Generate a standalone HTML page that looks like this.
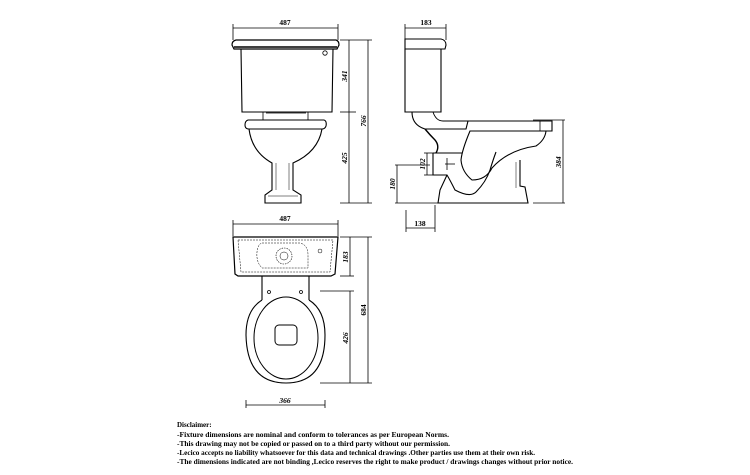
<!DOCTYPE html>
<html><head><style>html,body{margin:0;padding:0;background:#fff;width:750px;height:475px;overflow:hidden}</style></head>
<body>
<svg width="750" height="475" viewBox="0 0 750 475" xmlns="http://www.w3.org/2000/svg" font-family="Liberation Serif, serif">
<g fill="none" stroke="#000" stroke-width="0.8">
<!-- FRONT VIEW -->
<line x1="233" y1="28" x2="338" y2="28"/><line x1="233" y1="24" x2="233" y2="40"/><line x1="338" y1="24" x2="338" y2="40"/>
<path d="M236 40 H336 Q339 41 339 45 L337 49 H234 L232 45 Q232 41 236 40 Z" stroke-width="1.2"/>
<line x1="234" y1="47" x2="337" y2="47" stroke-width="1.5"/>
<path d="M241 49 L242 112 H332 L333 49" stroke-width="1.1"/>
<circle cx="325" cy="53" r="2.2"/>
<path d="M263 112 L263 120 M308 112 L308 120 M266 113 H306"/>
<path d="M248 120 H324 Q327 121 326 126 Q325 129 322 129 H249 Q245 129 245 125 Q245 121 248 120 Z" stroke-width="1.1"/>
<path d="M249 129 Q252 152 272 163 L272 190 L265 195 L265 203 H301 L301 195 L293 190 L293 163 Q318 152 322 129" stroke-width="1.1"/>
<path d="M276 163 V190 M289 163 V190 M268 196 H298" stroke-width="0.5"/>
<line x1="340" y1="40" x2="372" y2="40"/><line x1="340" y1="112" x2="356" y2="112"/><line x1="340" y1="203" x2="372" y2="203"/>
<line x1="349" y1="40" x2="349" y2="203"/><line x1="368" y1="40" x2="368" y2="203"/>
<!-- SIDE VIEW -->
<line x1="405" y1="28" x2="446" y2="28"/><line x1="405" y1="24" x2="405" y2="40"/><line x1="446" y1="24" x2="446" y2="40"/>
<path d="M405 49 V39 H441 Q446 40 446 45 L445 49 Z" stroke-width="1.1"/>
<path d="M405 49 V112 H441 V49" stroke-width="1.1"/>
<path d="M412 112 Q412 125 425 129 H466 L468 121 H552 V131 H470 Q462 150 461 160 Q462 172 472 180 Q486 180 492 168 Q508 150 536 146 Q545 140 546 131" stroke-width="1.1"/>
<path d="M433 112 Q436 121 443 121 H468" stroke-width="0.9"/>
<path d="M540 121 V131" />
<path d="M425 129 Q430 135 435 140 Q440 146 436 153" stroke-width="1.4"/>
<path d="M433 153 H462 M433 153 V175 H447 Q450 180 455 190 Q470 198 476 192 Q486 182 490 170 Q493 160 496 152 M447 175 L440 190 L438 203 H528 L525 187 L520 186 L520 160" stroke-width="1.1"/>
<path d="M516 162 V188" stroke-width="0.5"/>
<line x1="445" y1="164" x2="455" y2="164"/><line x1="447" y1="158" x2="447" y2="170"/>
<line x1="533" y1="120" x2="565" y2="120"/><line x1="533" y1="203" x2="565" y2="203"/><line x1="563" y1="120" x2="563" y2="203"/>
<line x1="395" y1="165" x2="430" y2="165"/><line x1="395" y1="203" x2="438" y2="203"/><line x1="397" y1="165" x2="397" y2="203"/>
<line x1="424" y1="153" x2="433" y2="153"/><line x1="424" y1="175" x2="433" y2="175"/><line x1="427" y1="153" x2="427" y2="175"/>
<line x1="406" y1="210" x2="406" y2="232"/><line x1="435" y1="205" x2="435" y2="232"/><line x1="406" y1="228" x2="435" y2="228"/>
<!-- PLAN VIEW -->
<line x1="233" y1="224" x2="338" y2="224"/><line x1="233" y1="220" x2="233" y2="236"/><line x1="338" y1="220" x2="338" y2="236"/>
<path d="M233 237 H338 L335 274 L331 276 H238 L235 274 Z" stroke-width="1.2"/>
<path d="M238 240 H333 L330 272 H241 Z" stroke-width="0.5" stroke-dasharray="2 1"/>
<path d="M262 243 H300 Q308 245 308 255 V268 H262 Q256 262 257 252 Q258 244 262 243 Z" stroke-width="0.5" stroke-dasharray="2 1"/>
<circle cx="284" cy="256" r="8" stroke-width="0.6" stroke-dasharray="1.5 1"/><circle cx="284" cy="256" r="4" stroke-width="0.5"/>
<circle cx="320" cy="251" r="2" stroke-width="0.5"/>
<path d="M262 276 V300 M309 276 V300" stroke-width="1.1"/>
<circle cx="269" cy="292" r="1.5"/><circle cx="301" cy="292" r="1.5"/>
<path d="M262 300 Q246 310 246 335 Q247 383 286 383 Q325 383 325 335 Q325 310 309 300" stroke-width="1.1"/>
<ellipse cx="286" cy="338" rx="32" ry="41" stroke-width="1"/>
<rect x="275" y="325" width="22" height="20" rx="4" stroke-width="1"/>
<line x1="340" y1="237" x2="372" y2="237"/><line x1="340" y1="276" x2="354" y2="276"/><line x1="320" y1="291" x2="354" y2="291"/><line x1="320" y1="383" x2="372" y2="383"/>
<line x1="350" y1="237" x2="350" y2="276"/><line x1="350" y1="291" x2="350" y2="383"/><line x1="368" y1="237" x2="368" y2="383"/>
<line x1="246" y1="400" x2="246" y2="408"/><line x1="325" y1="400" x2="325" y2="408"/><line x1="246" y1="405" x2="325" y2="405"/>
</g>
<g font-size="7.5" font-weight="bold" font-style="italic" fill="#000">
<text x="285" y="25" text-anchor="middle" font-style="normal">487</text>
<text x="426" y="25" text-anchor="middle" font-style="normal">183</text>
<text x="285" y="221" text-anchor="middle" font-style="normal">487</text>
<text x="420" y="226" text-anchor="middle" font-style="normal">138</text>
<text x="285" y="403" text-anchor="middle">366</text>
<text transform="translate(347,76) rotate(-90)" text-anchor="middle">341</text>
<text transform="translate(347,158) rotate(-90)" text-anchor="middle">425</text>
<text transform="translate(366,121) rotate(-90)" text-anchor="middle">766</text>
<text transform="translate(561,162) rotate(-90)" text-anchor="middle">384</text>
<text transform="translate(395,184) rotate(-90)" text-anchor="middle">180</text>
<text transform="translate(425,164) rotate(-90)" text-anchor="middle">102</text>
<text transform="translate(348,257) rotate(-90)" text-anchor="middle">183</text>
<text transform="translate(348,338) rotate(-90)" text-anchor="middle">426</text>
<text transform="translate(366,310) rotate(-90)" text-anchor="middle" font-style="normal">684</text>
</g>
<g font-size="7" font-weight="bold" fill="#000">
<text x="177" y="427">Disclaimer:</text>
<text x="177" y="437" textLength="272" lengthAdjust="spacingAndGlyphs">-Fixture dimensions are nominal and conform to tolerances as per European Norms.</text>
<text x="177" y="446" textLength="273" lengthAdjust="spacingAndGlyphs">-This drawing may not be copied or passed on to a third party without our permission.</text>
<text x="177" y="455" textLength="358" lengthAdjust="spacingAndGlyphs">-Lecico accepts no liability whatsoever for this data and technical drawings .Other parties use them at their own risk.</text>
<text x="177" y="464" textLength="396" lengthAdjust="spacingAndGlyphs">-The dimensions indicated are not binding ,Lecico reserves the right to make product / drawings changes without prior notice.</text>
</g>
</svg>
</body></html>
